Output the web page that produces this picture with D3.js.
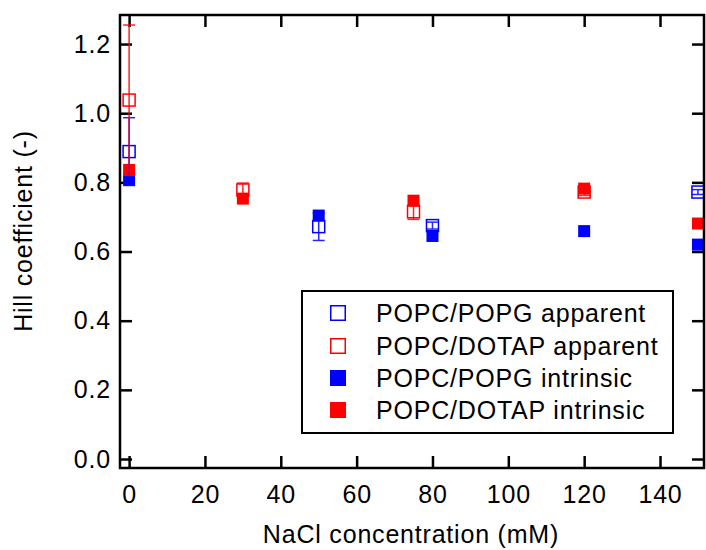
<!DOCTYPE html>
<html>
<head>
<meta charset="utf-8">
<script src="https://cdn.jsdelivr.net/npm/d3@7"></script>
<style>
  body { margin: 0; background: #fff; }
  text { font-family: "Liberation Sans", Arial, sans-serif; }
</style>
</head>
<body>
<div id="chart"></div>
<script>
// NaCl concentrations (mM) and Hill coefficients
const pgApparentX = [0, 50, 80, 150];
const pgApparentY = [0.889, 0.672, 0.675, 0.772];
const pgApparentErr = [0.098, 0.04, 0.01, 0.007];

const dotapApparentX = [0, 30, 75, 120];
const dotapApparentY = [1.038, 0.778, 0.715, 0.772];
const dotapApparentErr = [0.217, 0.02, 0.022, 0.01];

const pgIntrinsicX = [0, 50, 80, 120, 150];
const pgIntrinsicY = [0.808, 0.704, 0.645, 0.659, 0.620];

const dotapIntrinsicX = [0, 30, 75, 120, 150];
const dotapIntrinsicY = [0.836, 0.753, 0.747, 0.782, 0.681];

const xTicks = [0, 20, 40, 60, 80, 100, 120, 140];
const yTicks = [0.0, 0.2, 0.4, 0.6, 0.8, 1.0, 1.2];

const legendLabels = ["POPC/POPG apparent", "POPC/DOTAP apparent", "POPC/POPG intrinsic", "POPC/DOTAP intrinsic"];

function drawChart() {
    const W = 706, H = 550;
    const left = 120, right = 704, top = 15, bottom = 468;

    const svg = d3.select("#chart")
        .append("svg")
        .attr("width", W)
        .attr("height", H);

    const x = d3.scaleLinear().domain([-2.4, 151.6]).range([left, right]);
    const y = d3.scaleLinear().domain([-0.026, 1.284]).range([bottom, top]);

    const zip = (xs, ys, es) => xs.map((v, i) => ({ x: v, y: ys[i], e: es ? es[i] : 0 }));

    const series = [
        { data: zip(pgApparentX, pgApparentY, pgApparentErr), color: "#0000ff", open: true },
        { data: zip(dotapApparentX, dotapApparentY, dotapApparentErr), color: "#ff0000", open: true },
        { data: zip(pgIntrinsicX, pgIntrinsicY), color: "#0000ff", open: false },
        { data: zip(dotapIntrinsicX, dotapIntrinsicY), color: "#ff0000", open: false }
    ];

    const fontSize = "25px";
    const spacing = "0.8px";

    // axes with inward ticks
    const xAxis = svg.append("g")
        .attr("transform", `translate(0,${bottom})`)
        .call(d3.axisBottom(x).tickValues(xTicks).tickSize(-12).tickSizeOuter(0).tickPadding(17).tickFormat(d3.format("d")));
    const xTop = svg.append("g")
        .attr("transform", `translate(0,${top})`)
        .call(d3.axisTop(x).tickValues(xTicks).tickSize(-12).tickSizeOuter(0).tickFormat(""));
    const yAxis = svg.append("g")
        .attr("transform", `translate(${left},0)`)
        .call(d3.axisLeft(y).tickValues(yTicks).tickSize(-12).tickSizeOuter(0).tickPadding(9).tickFormat(d3.format(".1f")));
    const yRight = svg.append("g")
        .attr("transform", `translate(${right},0)`)
        .call(d3.axisRight(y).tickValues(yTicks).tickSize(-12).tickSizeOuter(0).tickFormat(""));

    [xAxis, xTop, yAxis, yRight].forEach(g => {
        g.select(".domain").remove();
        g.selectAll(".tick line").attr("stroke", "#000").attr("stroke-width", 2.5);
        g.selectAll(".tick text")
            .attr("fill", "#000")
            .style("font-size", fontSize)
            .style("letter-spacing", spacing)
            .style("font-family", "'Liberation Sans', Arial, sans-serif");
    });

    // open markers first, filled on top, error bars last
    const size = 12;
    const plot = svg.append("g");

    series.filter(s => s.open).forEach(s => {
        plot.selectAll(null)
            .data(s.data)
            .enter()
            .append("rect")
            .attr("x", d => x(d.x) - size / 2)
            .attr("y", d => y(d.y) - size / 2)
            .attr("width", size)
            .attr("height", size)
            .attr("fill", "#fff")
            .attr("stroke", s.color)
            .attr("stroke-width", 1.5);
    });

    series.filter(s => !s.open).forEach(s => {
        plot.selectAll(null)
            .data(s.data)
            .enter()
            .append("rect")
            .attr("x", d => x(d.x) - size / 2)
            .attr("y", d => y(d.y) - size / 2)
            .attr("width", size)
            .attr("height", size)
            .attr("fill", s.color);
    });

    series.filter(s => s.open).forEach(s => {
        const eb = plot.selectAll(null)
            .data(s.data)
            .enter()
            .append("g")
            .attr("stroke", s.color)
            .attr("stroke-width", 1.5)
            .attr("opacity", 0.85);
        eb.append("line")
            .attr("x1", d => x(d.x)).attr("x2", d => x(d.x))
            .attr("y1", d => y(d.y + d.e)).attr("y2", d => y(d.y - d.e));
        eb.append("line")
            .attr("x1", d => x(d.x) - 6).attr("x2", d => x(d.x) + 6)
            .attr("y1", d => y(d.y + d.e)).attr("y2", d => y(d.y + d.e));
        eb.append("line")
            .attr("x1", d => x(d.x) - 6).attr("x2", d => x(d.x) + 6)
            .attr("y1", d => y(d.y - d.e)).attr("y2", d => y(d.y - d.e));
    });

    // frame
    svg.append("rect")
        .attr("x", left)
        .attr("y", top)
        .attr("width", right - left)
        .attr("height", bottom - top)
        .attr("fill", "none")
        .attr("stroke", "#000")
        .attr("stroke-width", 2.5);

    // axis titles
    svg.append("text")
        .attr("x", 411)
        .attr("y", 543)
        .attr("text-anchor", "middle")
        .style("font-size", fontSize)
        .style("letter-spacing", spacing)
        .text("NaCl concentration (mM)");

    svg.append("text")
        .attr("transform", "translate(32,231) rotate(-90)")
        .attr("text-anchor", "middle")
        .style("font-size", fontSize)
        .style("letter-spacing", spacing)
        .text("Hill coefficient (-)");

    // legend
    const legend = svg.append("g");
    legend.append("rect")
        .attr("x", 302)
        .attr("y", 291)
        .attr("width", 371)
        .attr("height", 142)
        .attr("fill", "#fff")
        .attr("stroke", "#000")
        .attr("stroke-width", 2);

    const rowY = [313, 346, 378, 410];
    const ls = 16;
    legendLabels.forEach((label, i) => {
        const s = series[i];
        legend.append("rect")
            .attr("x", 338 - ls / 2 + (s.open ? 0.75 : 0))
            .attr("y", rowY[i] - ls / 2 + (s.open ? 0.75 : 0))
            .attr("width", s.open ? ls - 1.5 : ls)
            .attr("height", s.open ? ls - 1.5 : ls)
            .attr("fill", s.open ? "#fff" : s.color)
            .attr("stroke", s.open ? s.color : "none")
            .attr("stroke-width", 1.5);
        legend.append("text")
            .attr("x", 376)
            .attr("y", rowY[i])
            .attr("dy", "0.35em")
            .style("font-size", fontSize)
            .style("letter-spacing", spacing)
            .text(label);
    });
}

drawChart();
</script>
</body>
</html>
